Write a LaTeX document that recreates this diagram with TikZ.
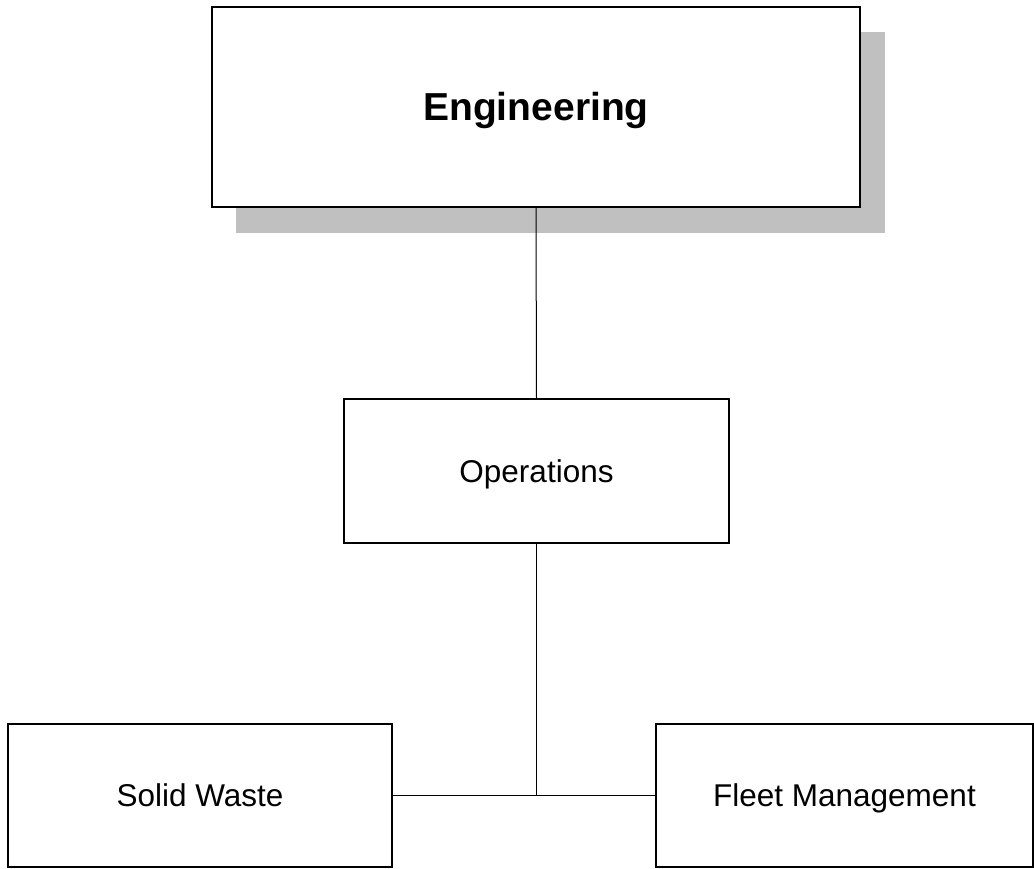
\documentclass[tikz,border=0pt]{standalone}
\usepackage{fontspec}
\setmainfont{Liberation Sans}
\usepackage{xcolor}
\definecolor{shadowgray}{RGB}{192,192,192}

\tikzset{
  unitbox/.style={draw=black, line width=1.8pt, fill=white, inner sep=0pt, outer sep=0pt,
    text height=22.5pt, text depth=0pt, font=\fontsize{31.5}{37}\selectfont},
  headbox/.style={unitbox, text height=28pt, font=\fontsize{39}{45}\selectfont\bfseries},
  link/.style={line width=1.8pt}
}

\begin{document}
\begin{tikzpicture}[x=1pt, y=-1pt]
        \useasboundingbox (0,0) rectangle (1034,869);

        % shadow of the top box
        \fill[shadowgray] (236,32) rectangle (885,233);

        \node[headbox, minimum width=648pt, minimum height=200pt] (eng) at (536,107) {Engineering};
        \node[unitbox, minimum width=385pt, minimum height=144pt] (ops) at (536.5,471) {Operations};
        \node[unitbox, minimum width=384pt, minimum height=143pt] (solid) at (200,795.5) {Solid Waste};
        \node[unitbox, minimum width=377pt, minimum height=143pt] (fleet) at (844.5,795.5) {Fleet Management};

        \coordinate (jn) at (ops.south |- solid.east);

        \draw[line width=1pt] (eng.south) -- (ops.north);
        \draw[link] (ops.south) -- (jn);
        \draw[link] (solid.east) -- (fleet.west);
\end{tikzpicture}
\end{document}
